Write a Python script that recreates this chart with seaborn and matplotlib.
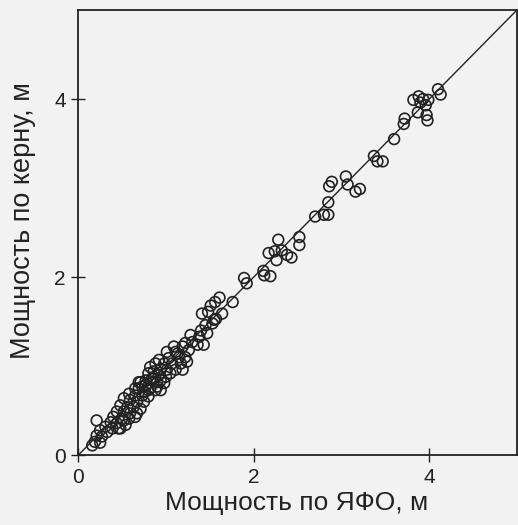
import matplotlib
matplotlib.use("Agg")
import matplotlib.pyplot as plt
import seaborn as sns
import pandas as pd

# Thickness from nuclear-physics logging (ЯФО) vs thickness from core, m
yafo = [
    # upper part
    4.10, 4.13, 3.82, 3.88, 3.93, 3.99, 3.90, 3.96, 3.87, 3.97, 3.98, 3.71, 3.72, 3.60,
    3.37, 3.41, 3.47, 3.05, 3.07, 3.16, 3.21, 2.86, 2.89, 2.85, 2.70, 2.80, 2.85, 2.52,
    2.52, 2.28, 2.17, 2.24, 2.32, 2.38, 2.43, 2.26, 2.11, 2.12, 2.19, 1.89, 1.92, 1.76,
    1.61, 1.56, 1.51, 1.48, 1.41, 1.64, 1.57, 1.55, 1.53,
    # dense lower part
    0.69, 0.77, 0.86, 0.94, 0.90, 0.65, 0.73, 0.80, 0.88, 0.58, 0.65, 0.73, 0.80, 0.52,
    0.59, 0.67, 0.75, 0.48, 0.56, 0.63, 0.71, 0.44, 0.52, 0.59, 0.67, 0.40, 0.50, 0.58,
    0.65, 0.37, 0.44, 0.54, 0.31, 0.39, 0.48, 0.25, 0.33, 0.21, 0.27, 0.19,
    1.45, 1.40, 1.47, 1.38, 1.43, 1.36, 1.28, 1.30, 1.22, 1.26, 1.19, 1.11, 1.15, 1.22,
    1.24, 1.17, 1.01, 1.03, 1.07, 1.11, 1.19, 0.92, 0.98, 0.88, 0.94, 1.01, 1.05, 0.82,
    0.86, 0.92, 1.00, 0.80, 0.84, 0.90, 0.98, 0.71, 0.77, 0.69, 0.75, 0.82,
    0.16, 0.25, 0.21, 0.46, 0.52, 0.94, 1.13, 1.09,
]
core = [
    4.11, 4.05, 3.99, 4.03, 4.00, 3.99, 3.96, 3.93, 3.85, 3.82, 3.76, 3.72, 3.78, 3.55,
    3.36, 3.30, 3.30, 3.13, 3.04, 2.96, 2.99, 3.02, 3.07, 2.84, 2.68, 2.70, 2.70, 2.45,
    2.36, 2.42, 2.27, 2.29, 2.30, 2.25, 2.22, 2.19, 2.07, 2.02, 2.01, 1.99, 1.93, 1.72,
    1.77, 1.72, 1.68, 1.61, 1.59, 1.59, 1.53, 1.52, 1.48,
    0.82, 0.84, 0.86, 0.84, 0.77, 0.75, 0.77, 0.73, 0.73, 0.69, 0.67, 0.67, 0.66, 0.64,
    0.62, 0.60, 0.60, 0.56, 0.54, 0.54, 0.52, 0.49, 0.49, 0.47, 0.47, 0.43, 0.41, 0.41,
    0.43, 0.37, 0.36, 0.34, 0.32, 0.30, 0.30, 0.28, 0.26, 0.22, 0.21, 0.15,
    1.46, 1.40, 1.37, 1.33, 1.24, 1.24, 1.35, 1.27, 1.26, 1.18, 1.22, 1.16, 1.10, 1.10,
    1.05, 1.03, 1.16, 1.09, 1.03, 0.96, 0.96, 1.07, 1.03, 1.03, 0.97, 0.96, 0.92, 0.99,
    0.94, 0.90, 0.88, 0.92, 0.86, 0.82, 0.81, 0.82, 0.79, 0.75, 0.71, 0.75,
    0.11, 0.14, 0.39, 0.30, 0.39, 0.73, 1.14, 1.22,
]
ticks = [0, 2, 4]
tick_labels = ["0", "2", "4"]
line_ends = [0, 5]

df = pd.DataFrame({"yafo": yafo, "core": core})

sns.set_style("white")
plt.rcParams["font.family"] = ["Liberation Sans", "DejaVu Sans"]

bg = "#f2f2f2"
ink = "#222222"
fig = plt.figure(figsize=(5.18, 5.25), dpi=100, facecolor=bg)
ax = fig.add_axes([0.151, 0.133, 0.847, 0.848])
ax.set_facecolor(bg)

sns.lineplot(x=line_ends, y=line_ends, ax=ax, color=ink, linewidth=1.0)
sns.scatterplot(data=df, x="yafo", y="core", ax=ax, s=60, facecolors="none",
                edgecolor=ink, linewidth=1.2, zorder=3)

ax.set_xlim(0, 5)
ax.set_ylim(0, 5)
ax.set_xticks(ticks)
ax.set_xticklabels(tick_labels)
ax.set_yticks(ticks)
ax.set_yticklabels(tick_labels)
ax.tick_params(bottom=True, left=True, direction="inout", length=10, width=1.0,
               colors=ink, labelsize=15, pad=4)
for s in ax.spines.values():
    s.set_color(ink)
    s.set_linewidth(1.3)
    s.set_visible(True)

ax.set_xlabel("Мощность по ЯФО, м", fontsize=19, color=ink)
ax.set_ylabel("Мощность по керну, м", fontsize=19.5, color=ink)
ax.xaxis.set_label_coords(0.497, -0.08)
ax.yaxis.set_label_coords(-0.096, 0.527)

fig.savefig("out.png", dpi=100, facecolor=bg)
